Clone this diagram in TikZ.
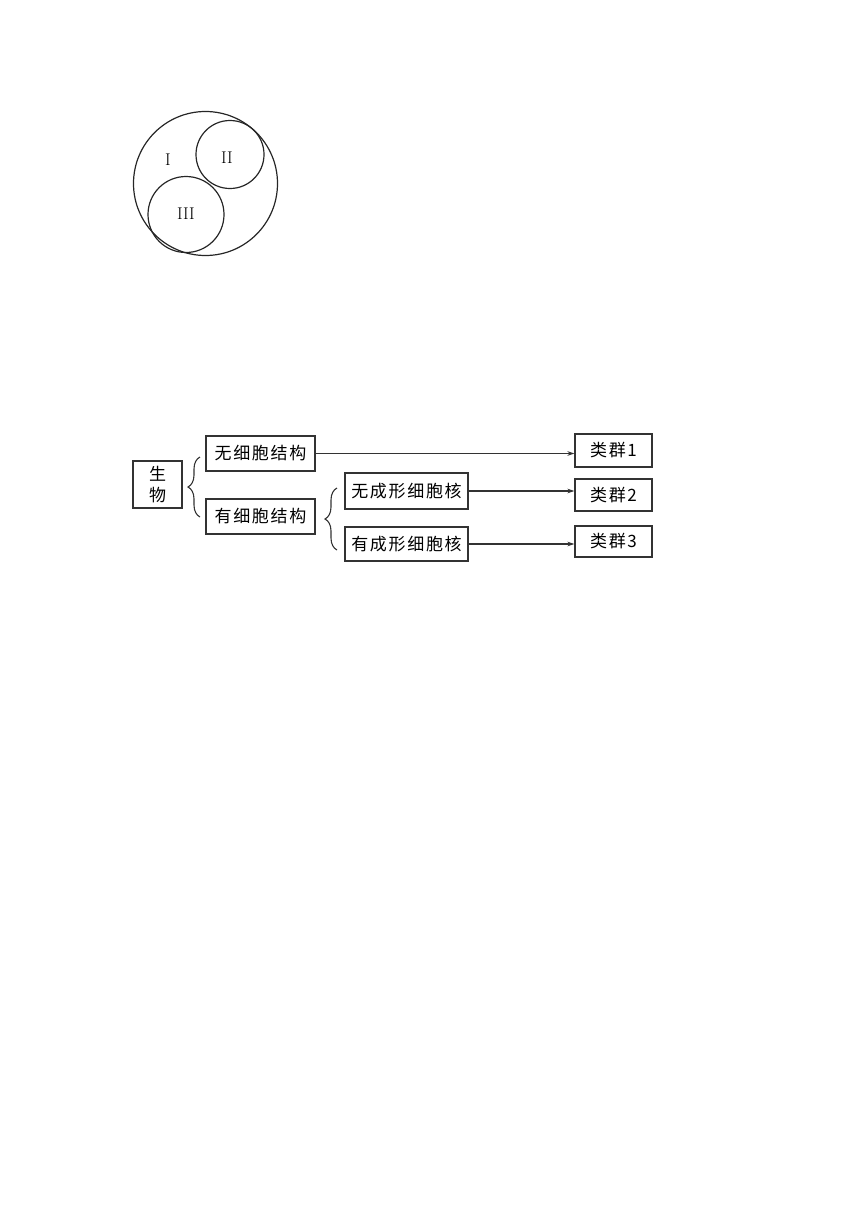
\documentclass[tikz,border=0pt]{standalone}
\usepackage{fontspec}
\newfontfamily\cjk[LetterSpace=10]{Noto Sans CJK SC}
\usepackage{tikz}
\usetikzlibrary{positioning, arrows.meta, decorations.pathreplacing}
\tikzset{box/.style={draw=black!80, line width=1.1pt, inner sep=0pt, font=\cjk\fontsize{17}{21}\selectfont},
 arr/.style={draw=black!80, line width=1.1pt, -{Stealth[length=7pt,width=4.5pt]}},
 brc/.style={draw=black!80, line width=1.1pt, decorate, decoration={brace,amplitude=12pt}},
 ring/.style={draw=black!85, line width=1.2pt},
 roman/.style={font=\fontsize{17}{20}\selectfont}}

\begin{document}
\begin{tikzpicture}[x=1pt,y=-1pt]
\useasboundingbox (0,0) rectangle (860,1216);

                 % circles
                 \draw[ring] (205.5,183.5) circle (72pt);
                 \draw[ring] (230,154.5) circle (34pt);
                 \draw[ring] (186,214.5) circle (38pt);
                 \node[roman] (r1) at (168,160) {I};
                 \node[roman] (r2) at (227,158) {II};
                 \node[roman] (r3) at (186,214) {III};

                 % tree
                 \node[box, minimum width=49pt, minimum height=47pt, align=center] (bio) at (157.5,484.5) {生\\物};
                 \node[box, minimum width=109pt, minimum height=35pt] (nocell) at (260.5,453.5) {无细胞结构};
                 \node[box, minimum width=109pt, minimum height=35pt] (cell) at (260.5,516.5) {有细胞结构};
                 \node[box, minimum width=123pt, minimum height=36pt] (nonuc) at (406.5,491) {无成形细胞核};
                 \node[box, minimum width=123pt, minimum height=34pt] (nuc) at (406.5,544) {有成形细胞核};

                 \node[box, minimum width=77pt, minimum height=33pt] (g1) at (613.5,450.5) {类群1};
                 \node[box, minimum width=77pt, minimum height=32pt] (g2) at (613.5,495) {类群2};
                 \node[box, minimum width=77pt, minimum height=31pt] (g3) at (613.5,541.5) {类群3};

                 \coordinate (b1s) at (200,517);
                 \coordinate (b1n) at (200,457);
                 \coordinate (b2s) at (337,550);
                 \coordinate (b2n) at (337,488);
                 \draw[brc] (b1s) -- (b1n);
                 \draw[brc] (b2s) -- (b2n);

                 \draw[arr] (nocell.east) -- (nocell.east -| g1.west);
                 \draw[arr] (nonuc.east) -- (nonuc.east -| g2.west);
                 \draw[arr] (nuc.east) -- (nuc.east -| g3.west);

\end{tikzpicture}
\end{document}
